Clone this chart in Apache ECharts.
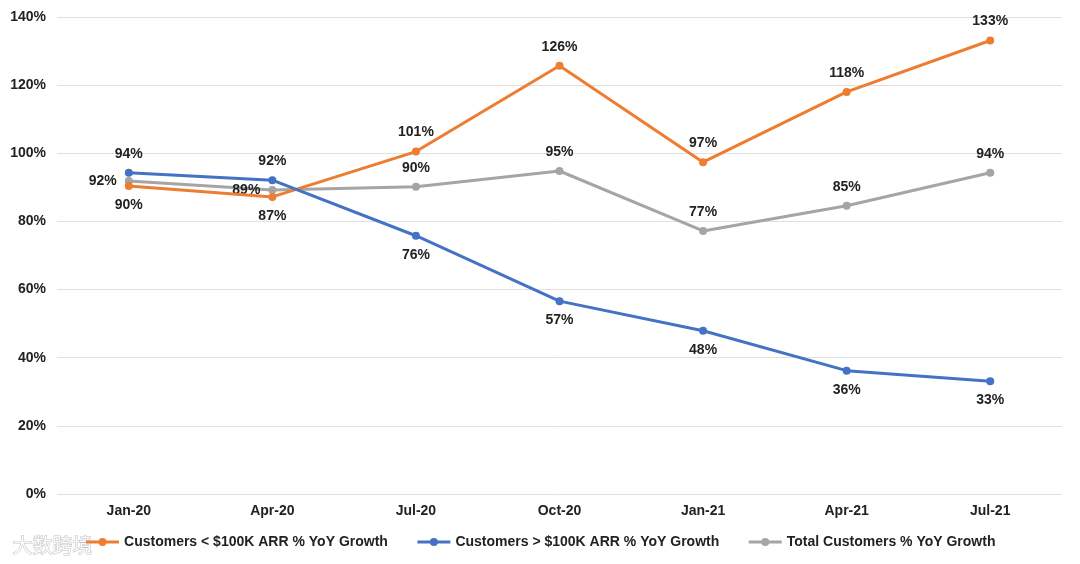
<!DOCTYPE html>
<html><head><meta charset="utf-8">
<script src="https://cdn.jsdelivr.net/npm/echarts@6/dist/echarts.min.js"></script>
<style>html,body{margin:0;padding:0;background:#fff}#c{width:1080px;height:564px}</style>
</head><body><div id="c"></div>
<script>
var categories = ['Jan-20','Apr-20','Jul-20','Oct-20','Jan-21','Apr-21','Jul-21'];
var seriesNames = ['Customers < $100K ARR % YoY Growth','Customers > $100K ARR % YoY Growth','Total Customers % YoY Growth'];
var under100k = [90.4, 87.2, 100.5, 125.7, 97.4, 118.0, 133.1];
var over100k = [94.3, 92.1, 75.8, 56.6, 47.9, 36.2, 33.1];
var totalCust = [91.9, 89.2, 90.2, 94.8, 77.2, 84.6, 94.3];
var yTicks = [0, 20, 40, 60, 80, 100, 120, 140];

var labelPos = [
  ['bottom','bottom','top','top','top','top','top'],
  ['top','top','bottom','bottom','bottom','bottom','bottom'],
  ['left','left','top','top','top','top','top']
];
var colors = ['#ED7D31','#4472C4','#A5A5A5'];
var FONT = 'Liberation Sans, Arial, sans-serif';

function mk(idx, vals){
  return {
    name: seriesNames[idx], type: 'line', data: vals.map(function(v,i){
      return {value: v, label: {position: labelPos[idx][i]}};
    }),
    symbol: 'circle', symbolSize: 8,
    lineStyle: {width: 3, color: colors[idx]},
    itemStyle: {color: colors[idx]},
    label: {show: true, distance: 8, fontFamily: FONT, fontWeight: 'bold', fontSize: 14, color: '#222',
      formatter: function(p){ return Math.round(p.value) + '%'; }},
    z: idx === 1 ? 3 : (idx === 0 ? 2 : 1)
  };
}

var chart = echarts.init(document.getElementById('c'));
chart.setOption({
  animation: false,
  color: colors,
  grid: {left: 57, right: 18, top: 17, bottom: 70},
  legend: {
    bottom: 10, left: 'center', itemGap: 28, itemWidth: 33, itemHeight: 10,
    lineStyle: {width: 3},
    textStyle: {fontFamily: FONT, fontWeight: 'bold', fontSize: 14, color: '#222'},
    data: seriesNames
  },
  xAxis: {
    type: 'category', data: categories, boundaryGap: true,
    axisLine: {show: false}, axisTick: {show: false},
    axisLabel: {fontFamily: FONT, fontWeight: 'bold', fontSize: 14, color: '#222', margin: 10}
  },
  yAxis: {
    type: 'value', min: yTicks[0], max: yTicks[yTicks.length-1], interval: 20,
    axisLine: {show: false}, axisTick: {show: false},
    splitLine: {lineStyle: {color: '#e0e0e0', width: 1}},
    axisLabel: {fontFamily: FONT, fontWeight: 'bold', fontSize: 14, color: '#222', margin: 11,
      formatter: function(v){ return v + '%'; }}
  },
  graphic: [{type: 'text', left: 12, bottom: 8, style: {text: '大数跨境', fontSize: 20, fontFamily: 'Noto Sans CJK SC', fill: 'rgba(255,255,255,0.9)', stroke: 'rgba(150,150,150,0.6)', lineWidth: 1}}],
  series: [mk(0, under100k), mk(1, over100k), mk(2, totalCust)]
});
</script></body></html>
